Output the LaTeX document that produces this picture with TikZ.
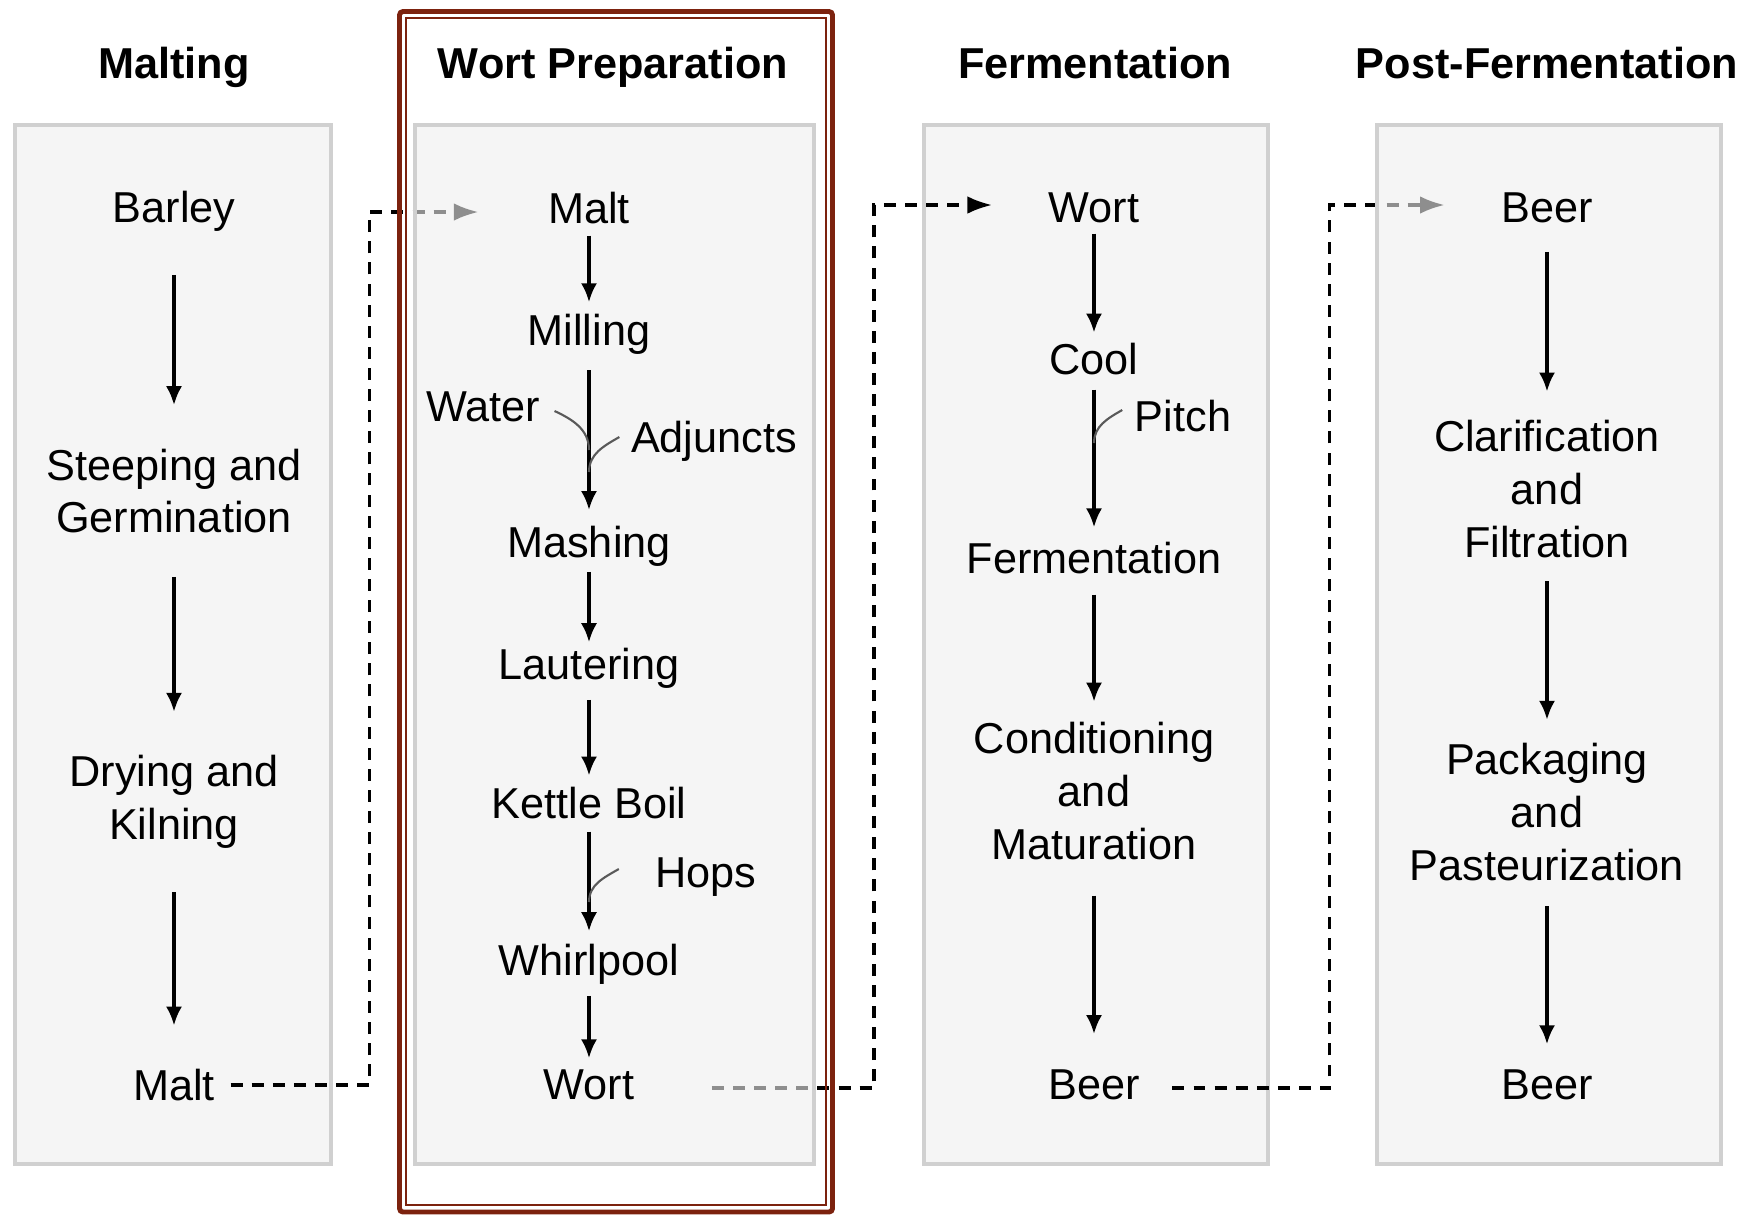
\documentclass[tikz,border=0pt]{standalone}
\usepackage{fontspec}
\setmainfont{Liberation Sans}
\usetikzlibrary{
  arrows.meta,
  backgrounds,
  calc,
  positioning,
}
\definecolor{panelgray}{RGB}{245, 245, 245}
\definecolor{paneltop}{RGB}{238, 238, 238}
\definecolor{panelrule}{RGB}{208, 208, 208}
\definecolor{wortred}{RGB}{124, 34, 14}
\tikzstyle{stage} = [
  font=\fontsize{12.3}{15}\selectfont,
  align=center,
  inner sep=0pt,
]
\tikzstyle{heading} = [
  font=\fontsize{12.3}{15}\selectfont\bfseries,
  inner sep=0pt,
  text height=0.75em,
  text depth=0.25em,
]
\tikzstyle{flow} = [
  -{Latex[length=5.4pt,width=4.6pt]},
  line width=1pt,
]
\tikzstyle{feed} = [
  line width=0.6pt,
  black!65,
]
\tikzstyle{link} = [
  -{Latex[length=7pt,width=5pt]},
  line width=0.9pt,
  dash pattern=on 3.4pt off 2.6pt,
]
\tikzstyle{panel} = [
  draw=panelrule,
  line width=1.1pt,
  fill=panelgray,
]
\tikzstyle{overpanel} = [
  panel,
  fill=paneltop,
  fill opacity=0.6,
]

\begin{document}
\begin{tikzpicture}[x=0.01cm, y=-0.01cm]

        \useasboundingbox (0,0) rectangle (1758,1217);

        \foreach \name/\xpos/\txt in {tmalt/174/Malting, twort/613/Wort Preparation,
                                      tferm/1095/Fermentation, tpost/1547/Post-Fermentation} {
          \node [heading] (\name) at (\xpos, 70) {\txt};
        }

        \node [stage] (barley) at (174, 211) {Barley};
        \node [stage] (steep) at (174, 491) {Steeping and\\Germination};
        \node [stage] (dry) at (174, 802) {Drying and\\Kilning};
        \node [stage] (malta) at (174, 1085) {Malt};

        \node [stage] (maltb) at (589, 208) {Malt};
        \node [stage] (mill) at (589, 334) {Milling};
        \node [stage] (mash) at (589, 546) {Mashing};
        \node [stage] (lauter) at (589, 668) {Lautering};
        \node [stage] (boil) at (589, 803) {Kettle Boil};
        \node [stage] (whirl) at (589, 964) {Whirlpool};
        \node [stage] (wortb) at (589, 1085) {Wort};
        \node [stage] (water) at (483, 407) {Water};
        \node [stage] (adjuncts) at (714, 441) {Adjuncts};
        \node [stage] (hops) at (706, 877) {Hops};

        \node [stage] (wortc) at (1094, 208) {Wort};
        \node [stage] (cool) at (1094, 359) {Cool};
        \node [stage] (ferment) at (1094, 558) {Fermentation};
        \node [stage] (cond) at (1094, 791) {Conditioning\\and\\Maturation};
        \node [stage] (beerc) at (1094, 1085) {Beer};
        \node [stage] (pitch) at (1183, 416) {Pitch};

        \node [stage] (beerd) at (1547, 208) {Beer};
        \node [stage] (clar) at (1547, 489) {Clarification\\and\\Filtration};
        \node [stage] (pack) at (1547, 812) {Packaging\\and\\Pasteurization};
        \node [stage] (beere) at (1547, 1085) {Beer};

        \foreach \a/\b/\g in {barley/steep/12.2pt, steep/dry/12.2pt, dry/malta/12.2pt,
                              maltb/mill/3.1pt, mill/mash/4.3pt, mash/lauter/1.4pt,
                              lauter/boil/3.1pt, boil/whirl/3.4pt, whirl/wortb/3.1pt,
                              wortc/cool/2.8pt, cool/ferment/4pt, ferment/cond/5.7pt,
                              cond/beerc/10pt, beerd/clar/8pt, clar/pack/6.5pt,
                              pack/beere/7.1pt} {
          \draw [flow, shorten <=\g, shorten >=\g] (\a) -- (\b);
        }

        \coordinate (waterin) at (589, 450);
        \coordinate (adjin) at (589, 472);
        \coordinate (hopsin) at (589, 902);
        \coordinate (pitchin) at (1094, 443);

        \draw [feed] ($(water.east)+(14,4)$) to [out=-25, in=90] (waterin);
        \draw [feed] ($(adjuncts.west)+(-11,-4)$) to [out=210, in=90] (adjin);
        \draw [feed] ($(hops.west)+(-36,-8)$) to [out=210, in=90] (hopsin);
        \draw [feed] ($(pitch.west)+(-12,-6)$) to [out=210, in=90] (pitchin);

        \begin{pgfonlayer}{background}
          \draw [panel] (15,125) rectangle (331,1164);
          \draw [panel] (924,125) rectangle (1268,1164);

          \draw [link] ($(malta.east)+(15,0)$) -| ($(maltb.west)+(-178,4)$)
                -- ($(maltb.west)+(-69,4)$);
          \draw [link] ($(wortb.east)+(77,3)$) -| ($(wortc.west)+(-174,-3)$)
                -- ($(wortc.west)+(-56,-3)$);
          \draw [link] ($(beerc.east)+(32,3)$) -| ($(beerd.west)+(-171,-3)$)
                -- ($(beerd.west)+(-56,-3)$);

          \draw [overpanel] (415,125) rectangle (814,1164);
          \draw [overpanel] (1377,125) rectangle (1721,1164);
        \end{pgfonlayer}

        \draw [wortred, line width=1.4pt, rounded corners=1pt] (399.5,11.5) rectangle (832.5,1212);
        \draw [wortred, line width=0.5pt] (406,18) rectangle (826,1205);
      \end{tikzpicture}
\end{document}
